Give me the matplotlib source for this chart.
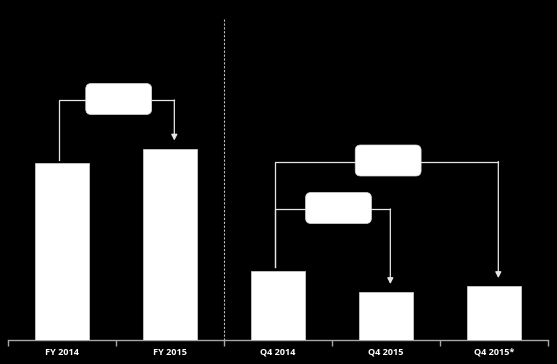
import matplotlib
matplotlib.use("Agg")
import matplotlib.pyplot as plt
from matplotlib.patches import FancyBboxPatch

categories = ["FY 2014", "FY 2015", "Q4 2014", "Q4 2015", "Q4 2015*"]
values = [176.5, 191, 69, 47.5, 53.5]

# brackets: (start bar, end bar, bracket height, box centre x)
brackets = [
    (0, 1, 239.5, 0.525),
    (2, 4, 178.0, 3.02),
    (2, 3, 130.5, 2.56),
]

W, H = 557, 364
fig = plt.figure(figsize=(W / 100, H / 100), dpi=100, facecolor="black")
ax = fig.add_axes([8 / W, (H - 339.5) / H, 540 / W, 339.5 / H])
ax.set_facecolor("black")

x = range(len(categories))
ax.bar(x, values, width=0.5, color="white", edgecolor="#d9d9d9", linewidth=0.5, zorder=3)

ax.set_xlim(-0.5, len(categories) - 0.5)
ax.set_ylim(0, 339.5)
for s in ["top", "left", "right"]:
    ax.spines[s].set_visible(False)
ax.spines["bottom"].set_color("#a6a6a6")
ax.spines["bottom"].set_linewidth(1.0)
ax.set_yticks([])
ax.set_xticks(list(x))
ax.set_xticklabels(categories, color="white", fontsize=6.6, fontweight="bold",
                   family=["Open Sans", "DejaVu Sans"])
ax.tick_params(axis="x", which="major", length=0, pad=6)
ax.set_xticks([i - 0.5 for i in range(len(categories) + 1)], minor=True)
ax.tick_params(axis="x", which="minor", length=4, color="#a6a6a6", width=1)

# divider between full-year and quarter
ax.plot([1.5, 1.5], [320.5, 0], color="#bfbfbf", lw=0.8, ls=(0, (2, 1.5)), zorder=2)

lc = "#e6e6e6"
for a, b, level, bx in brackets:
    xa = a - 0.03
    xb = b + 0.04
    ax.plot([xa, xa, xb], [values[a] + 3.5, level, level], color=lc, lw=0.9,
            solid_joinstyle="miter", zorder=4)
    ax.annotate("", xy=(xb, values[b] + 8), xytext=(xb, level),
                arrowprops=dict(arrowstyle="-|>,head_width=0.18,head_length=0.35",
                                color=lc, lw=0.9, shrinkA=0, shrinkB=0), zorder=4)
    bw, bh = 0.61, 31
    box = FancyBboxPatch((bx - bw / 2, level - bh / 2 + 1), bw, bh,
                         boxstyle="round,pad=0,rounding_size=0.05",
                         mutation_aspect=108, facecolor="white",
                         edgecolor="#d9d9d9", lw=0.5, zorder=5)
    ax.add_patch(box)

fig.savefig("out.png", dpi=100, facecolor="black")
